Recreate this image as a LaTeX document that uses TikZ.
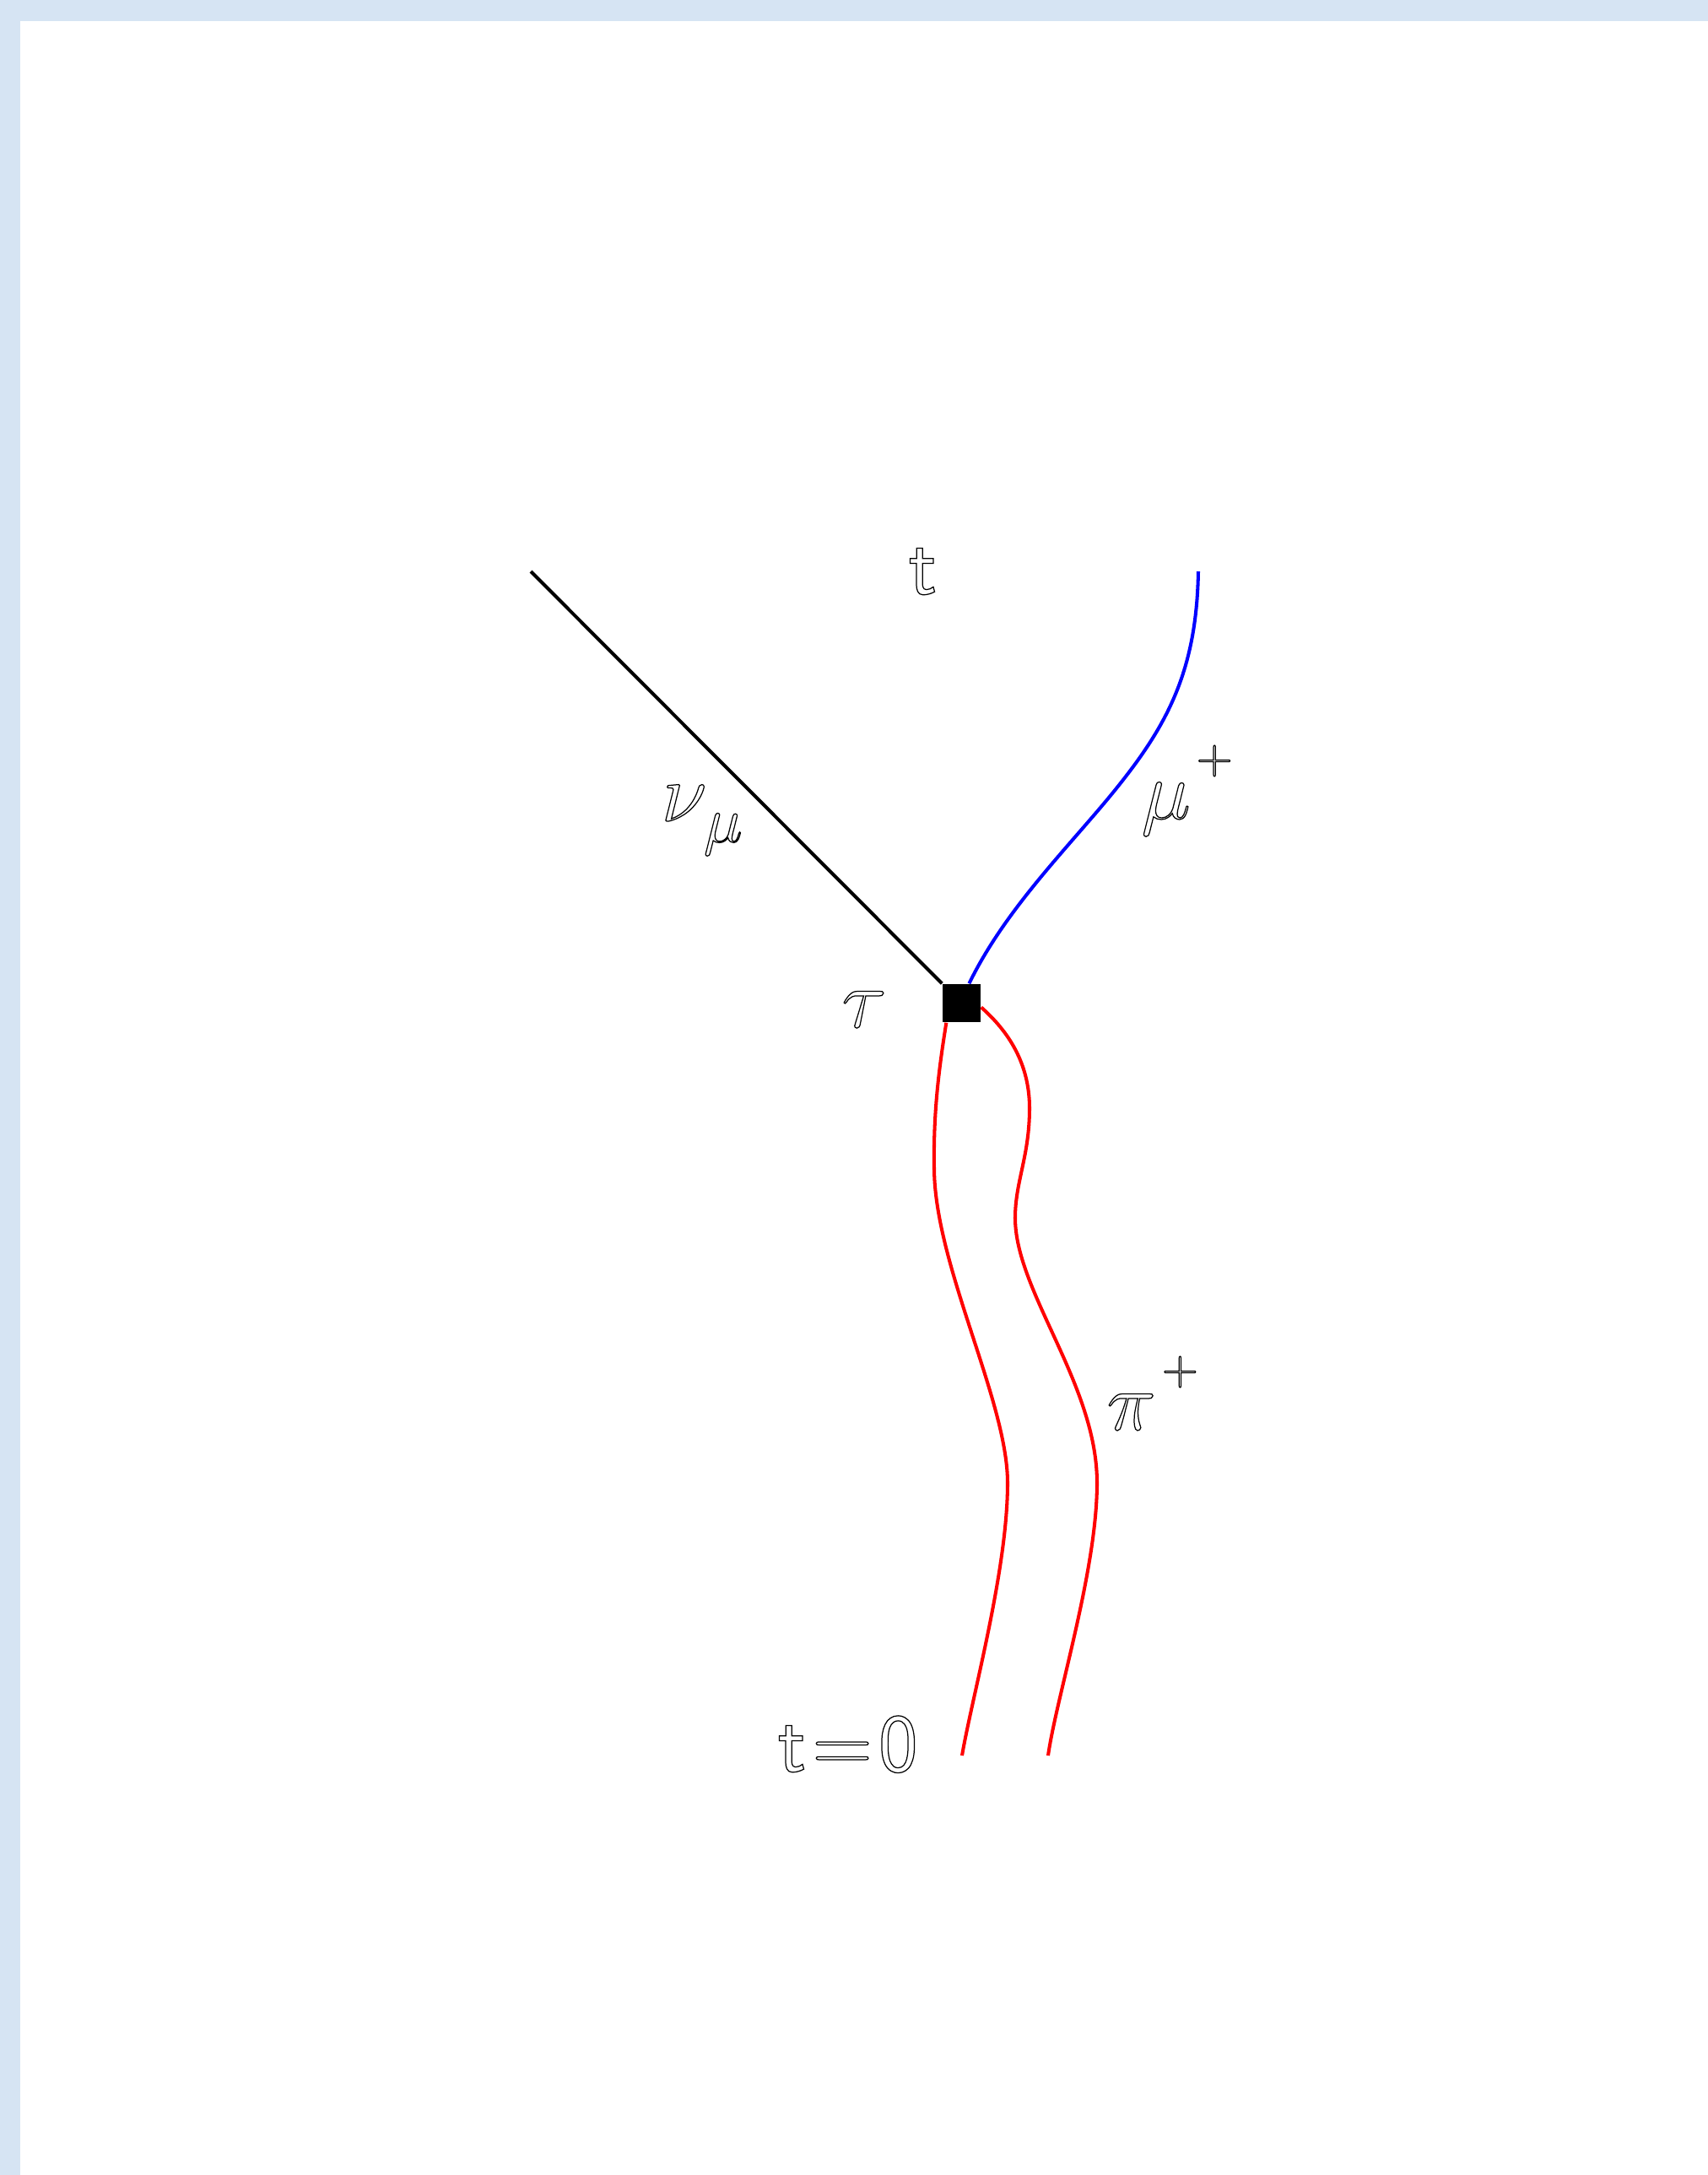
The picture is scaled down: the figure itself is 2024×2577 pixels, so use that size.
\documentclass[tikz,border=0pt]{standalone}
\usepackage{fix-cm}
\definecolor{edgeblue}{RGB}{214,228,243}
% hollow (outlined) glyphs, as in the reference
\newcommand{\outl}[1]{\special{pdf:literal direct 1 Tr 0.35 w}#1\special{pdf:literal direct 0 Tr}}
\newcommand{\chgsup}{\kern2pt\raisebox{15.5pt}{\fontsize{16}{16}\selectfont$+$}}
\begin{document}
\begin{tikzpicture}[x=0.01cm,y=-0.01cm,
    worldline/.style={line width=1.15pt},
    lbl/.style={inner sep=0pt,anchor=base west,font=\fontsize{28}{34}\selectfont}]
    % Page frame
    \useasboundingbox (0,0) rectangle (2024,2577);
    \fill[edgeblue] (0,0) rectangle (2024,25);
    \fill[edgeblue] (0,0) rectangle (24,2577);

    % Decay vertex
    \node[fill=black,minimum size=0.45cm,inner sep=0pt] (vtx) at (1139.5,1188.5) {};

    % Free ends of the world lines
    \coordinate (nuend) at (629,677);
    \coordinate (muend) at (1420,677);
    \coordinate (pia) at (1140,2080);
    \coordinate (pib) at (1242,2080);

    % Neutrino
    \draw[worldline] (vtx.north west) -- (nuend);

    % Muon
    \draw[worldline,blue] (vtx.69) .. controls (1190,1080) and (1260,1010) .. (1314,945)
        .. controls (1380,865) and (1418,800) .. (muend);

    % Pion pair
    \draw[worldline,red] (vtx.-128) .. controls (1112,1270) and (1106,1320) .. (1107,1385)
        .. controls (1108,1500) and (1194,1660) .. (1194,1757)
        .. controls (1194,1860) and (1152,2010) .. (pia);
    \draw[worldline,red] (vtx.-12) .. controls (1195,1222) and (1220,1260) .. (1220,1313)
        .. controls (1220,1370) and (1203,1400) .. (1203,1443)
        .. controls (1203,1530) and (1300,1640) .. (1300,1757)
        .. controls (1300,1860) and (1252,2010) .. (pib);

    % Labels
    \node[lbl] (tlbl) at (1076,704) {\outl{\textsf{t}}};
    \node[lbl] (nulbl) at (783,973) {\outl{$\nu$\kern-1pt\raisebox{-7pt}{\fontsize{22}{22}\selectfont$\mu$}}};
    \node[lbl] (mulbl) at (1352,970) {\outl{$\mu$\chgsup}};
    \node[lbl] (taulbl) at (997,1217) {\outl{$\tau$}};
    \node[lbl] (pilbl) at (1311,1694) {\outl{$\pi$\chgsup}};
    \node[lbl] (t0lbl) at (921,2099) {\outl{\textsf{t\kern2pt=\kern2pt0}}};
\end{tikzpicture}
\end{document}
